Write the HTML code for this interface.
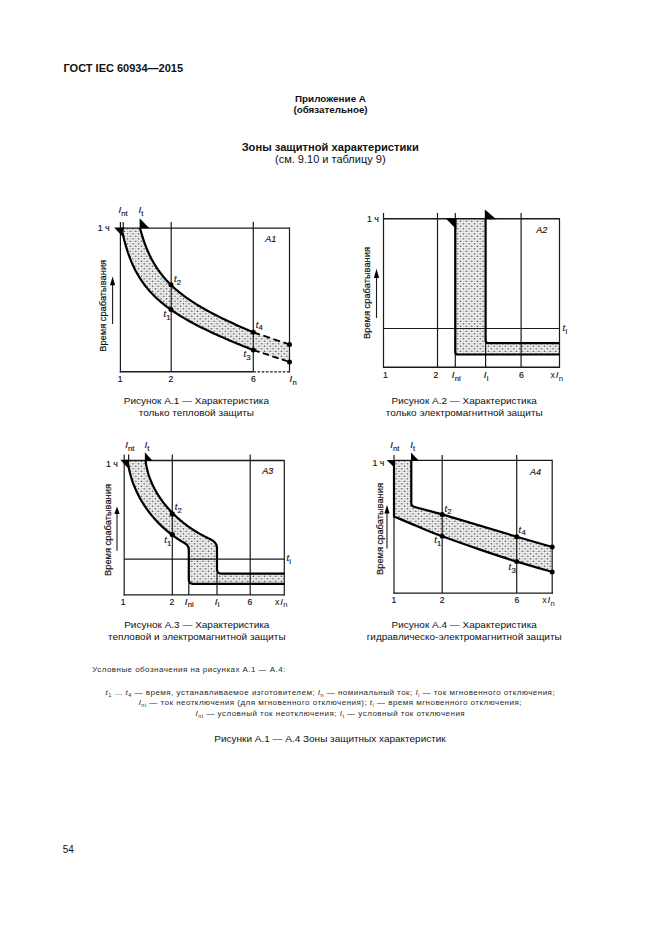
<!DOCTYPE html>
<html><head><meta charset="utf-8"><style>
html,body{margin:0;padding:0;background:#fff;width:661px;height:936px;overflow:hidden}
svg{position:absolute;left:0;top:0;display:block}
text{font-family:"Liberation Sans",sans-serif;fill:#111}
</style></head><body>
<svg width="661" height="936" viewBox="0 0 661 936">
<defs>
<pattern id="dots" width="5.6" height="5" patternUnits="userSpaceOnUse">
<rect width="5.6" height="5" fill="#f0f0f0"/>
<circle cx="1.4" cy="1.25" r="0.85" fill="#5a5a5a"/>
<circle cx="4.2" cy="3.75" r="0.85" fill="#5a5a5a"/>
<circle cx="4.2" cy="1.25" r="0.6" fill="#a8a8a8"/>
<circle cx="1.4" cy="3.75" r="0.6" fill="#a8a8a8"/>
</pattern>
</defs>
<path d="M140.00,228.19 L140.16,228.80 L140.49,230.02 L140.94,231.63 L141.49,233.54 L142.13,235.66 L142.85,237.95 L143.64,240.35 L144.51,242.83 L145.44,245.35 L146.44,247.90 L147.51,250.45 L148.63,252.99 L149.81,255.50 L151.04,257.97 L152.33,260.40 L153.67,262.78 L155.06,265.11 L156.51,267.38 L158.00,269.60 L159.54,271.76 L161.12,273.87 L162.75,275.93 L164.43,277.93 L166.15,279.89 L167.92,281.79 L169.73,283.65 L171.58,285.46 L173.47,287.23 L175.40,288.97 L177.38,290.66 L179.39,292.32 L181.44,293.95 L183.53,295.54 L185.66,297.11 L187.83,298.65 L190.03,300.16 L192.28,301.65 L194.56,303.12 L196.87,304.56 L199.22,305.99 L201.61,307.40 L204.03,308.79 L206.49,310.17 L208.98,311.53 L211.50,312.89 L214.06,314.22 L216.66,315.55 L219.28,316.87 L221.94,318.18 L224.63,319.48 L227.36,320.78 L230.11,322.07 L232.90,323.35 L235.72,324.63 L238.58,325.90 L241.46,327.17 L244.37,328.43 L247.32,329.69 L250.29,330.95 L253.30,332.21 L289.5,344.50 L289.5,362.00 L253.30,350.08 L249.80,348.70 L246.34,347.32 L242.92,345.94 L239.53,344.56 L236.17,343.18 L232.85,341.79 L229.57,340.40 L226.33,339.01 L223.12,337.61 L219.95,336.21 L216.82,334.80 L213.73,333.39 L210.67,331.97 L207.66,330.54 L204.68,329.10 L201.74,327.65 L198.84,326.18 L195.99,324.71 L193.17,323.22 L190.39,321.71 L187.66,320.18 L184.96,318.64 L182.31,317.07 L179.70,315.48 L177.14,313.86 L174.62,312.22 L172.14,310.54 L169.71,308.83 L167.32,307.08 L164.98,305.30 L162.68,303.47 L160.43,301.59 L158.23,299.67 L156.08,297.69 L153.98,295.66 L151.92,293.56 L149.92,291.39 L147.97,289.16 L146.07,286.85 L144.23,284.46 L142.44,281.98 L140.70,279.42 L139.02,276.77 L137.40,274.02 L135.84,271.17 L134.34,268.23 L132.91,265.20 L131.54,262.07 L130.23,258.86 L129.00,255.59 L127.83,252.26 L126.75,248.90 L125.74,245.54 L124.81,242.24 L123.97,239.04 L123.23,236.03 L122.59,233.28 L122.07,230.92 L121.69,229.12 L121.50,228.21 Z" fill="url(#dots)" stroke="none"/>
<line x1="120.4" y1="222.0" x2="120.4" y2="372.4" stroke="#1a1a1a" stroke-width="1.20"/>
<line x1="123.2" y1="222.0" x2="123.2" y2="229.0" stroke="#1a1a1a" stroke-width="1.20"/>
<line x1="120.4" y1="228.1" x2="289.5" y2="228.1" stroke="#1a1a1a" stroke-width="1.40"/>
<line x1="171.2" y1="222.0" x2="171.2" y2="371.8" stroke="#1a1a1a" stroke-width="1.20"/>
<line x1="253.3" y1="221.8" x2="253.3" y2="371.8" stroke="#1a1a1a" stroke-width="1.20"/>
<line x1="289.5" y1="227.5" x2="289.5" y2="372.4" stroke="#1a1a1a" stroke-width="1.20"/>
<line x1="119.8" y1="371.8" x2="253.3" y2="371.8" stroke="#1a1a1a" stroke-width="1.40"/>
<line x1="253.3" y1="371.8" x2="289.5" y2="371.8" stroke="#1a1a1a" stroke-width="1.20" stroke-dasharray="2.6,1.6"/>
<path d="M121.50,228.21 L121.69,229.12 L122.07,230.92 L122.59,233.28 L123.23,236.03 L123.97,239.04 L124.81,242.24 L125.74,245.54 L126.75,248.90 L127.83,252.26 L129.00,255.59 L130.23,258.86 L131.54,262.07 L132.91,265.20 L134.34,268.23 L135.84,271.17 L137.40,274.02 L139.02,276.77 L140.70,279.42 L142.44,281.98 L144.23,284.46 L146.07,286.85 L147.97,289.16 L149.92,291.39 L151.92,293.56 L153.98,295.66 L156.08,297.69 L158.23,299.67 L160.43,301.59 L162.68,303.47 L164.98,305.30 L167.32,307.08 L169.71,308.83 L172.14,310.54 L174.62,312.22 L177.14,313.86 L179.70,315.48 L182.31,317.07 L184.96,318.64 L187.66,320.18 L190.39,321.71 L193.17,323.22 L195.99,324.71 L198.84,326.18 L201.74,327.65 L204.68,329.10 L207.66,330.54 L210.67,331.97 L213.73,333.39 L216.82,334.80 L219.95,336.21 L223.12,337.61 L226.33,339.01 L229.57,340.40 L232.85,341.79 L236.17,343.18 L239.53,344.56 L242.92,345.94 L246.34,347.32 L249.80,348.70 L253.30,350.08" fill="none" stroke="#000" stroke-width="2.2" stroke-linejoin="round"/>
<path d="M140.00,228.19 L140.16,228.80 L140.49,230.02 L140.94,231.63 L141.49,233.54 L142.13,235.66 L142.85,237.95 L143.64,240.35 L144.51,242.83 L145.44,245.35 L146.44,247.90 L147.51,250.45 L148.63,252.99 L149.81,255.50 L151.04,257.97 L152.33,260.40 L153.67,262.78 L155.06,265.11 L156.51,267.38 L158.00,269.60 L159.54,271.76 L161.12,273.87 L162.75,275.93 L164.43,277.93 L166.15,279.89 L167.92,281.79 L169.73,283.65 L171.58,285.46 L173.47,287.23 L175.40,288.97 L177.38,290.66 L179.39,292.32 L181.44,293.95 L183.53,295.54 L185.66,297.11 L187.83,298.65 L190.03,300.16 L192.28,301.65 L194.56,303.12 L196.87,304.56 L199.22,305.99 L201.61,307.40 L204.03,308.79 L206.49,310.17 L208.98,311.53 L211.50,312.89 L214.06,314.22 L216.66,315.55 L219.28,316.87 L221.94,318.18 L224.63,319.48 L227.36,320.78 L230.11,322.07 L232.90,323.35 L235.72,324.63 L238.58,325.90 L241.46,327.17 L244.37,328.43 L247.32,329.69 L250.29,330.95 L253.30,332.21" fill="none" stroke="#000" stroke-width="2.2" stroke-linejoin="round"/>
<line x1="253.3" y1="350.0" x2="289.5" y2="362.0" stroke="#000" stroke-width="1.80" stroke-dasharray="6.5,3.5"/>
<line x1="253.3" y1="332.3" x2="289.5" y2="344.5" stroke="#000" stroke-width="1.80" stroke-dasharray="7,3.6"/>
<circle cx="171.0" cy="309.6" r="2.5" fill="#000"/>
<circle cx="171.0" cy="284.7" r="2.5" fill="#000"/>
<circle cx="253.3" cy="350.0" r="2.5" fill="#000"/>
<circle cx="253.3" cy="332.3" r="2.5" fill="#000"/>
<circle cx="289.5" cy="344.5" r="2.5" fill="#000"/>
<circle cx="289.5" cy="362.0" r="2.5" fill="#000"/>
<polygon points="114.2,227.4 124.4,227.4 122.2,236.2" fill="#000"/>
<polygon points="139.6,218.2 149.4,228.3 139.6,228.3" fill="#000"/>
<text x="118.4" y="213.2" font-size="9.60" text-anchor="start" stroke="#111" stroke-width="0.15"><tspan font-style="italic">I</tspan><tspan font-size="7.60" dy="3.0" dx="0.2">nt</tspan></text>
<text x="138.4" y="213.2" font-size="9.60" text-anchor="start" stroke="#111" stroke-width="0.15"><tspan font-style="italic">I</tspan><tspan font-size="7.60" dy="3.0" dx="0.2">t</tspan></text>
<text x="109.6" y="231.3" font-size="8.80" text-anchor="end" font-weight="normal" stroke="#111" stroke-width="0.15">1 ч</text>
<text x="265.2" y="241.8" font-size="9.00" text-anchor="start" font-weight="normal" font-style="italic" stroke="#111" stroke-width="0.15">A1</text>
<text transform="translate(106.4,305.8) rotate(-90)" x="0" y="0" font-size="9.30" text-anchor="middle" stroke="#111" stroke-width="0.18">Время срабатывания</text>
<line x1="112.6" y1="284.3" x2="112.6" y2="324.0" stroke="#1a1a1a" stroke-width="1.10"/>
<polygon points="112.6,276.4 110.0,285.3 115.2,285.3" fill="#000"/>
<text x="120.2" y="382.0" font-size="8.60" text-anchor="middle" font-weight="normal" stroke="#111" stroke-width="0.15">1</text>
<text x="170.8" y="382.0" font-size="8.60" text-anchor="middle" font-weight="normal" stroke="#111" stroke-width="0.15">2</text>
<text x="253.5" y="382.0" font-size="8.60" text-anchor="middle" font-weight="normal" stroke="#111" stroke-width="0.15">6</text>
<text x="289.6" y="381.8" font-size="9.60" text-anchor="start" stroke="#111" stroke-width="0.15"><tspan font-style="italic">I</tspan><tspan font-size="7.60" dy="3.0" dx="0.2">n</tspan></text>
<text x="174.0" y="282.2" font-size="9.40" text-anchor="start" stroke="#111" stroke-width="0.15"><tspan font-style="italic">t</tspan><tspan font-size="7.80" dy="2.6" dx="0.2">2</tspan></text>
<text x="163.4" y="317.2" font-size="9.40" text-anchor="start" stroke="#111" stroke-width="0.15"><tspan font-style="italic">t</tspan><tspan font-size="7.80" dy="2.6" dx="0.2">1</tspan></text>
<text x="255.8" y="327.5" font-size="9.40" text-anchor="start" stroke="#111" stroke-width="0.15"><tspan font-style="italic">t</tspan><tspan font-size="7.80" dy="2.6" dx="0.2">4</tspan></text>
<text x="243.5" y="357.0" font-size="9.40" text-anchor="start" stroke="#111" stroke-width="0.15"><tspan font-style="italic">t</tspan><tspan font-size="7.80" dy="2.6" dx="0.2">3</tspan></text>
<path d="M455.3,218.8 H485.6 V343.2 H559.5 V354.5 H455.3 Z" fill="url(#dots)"/>
<line x1="383.5" y1="213.0" x2="383.5" y2="367.9" stroke="#1a1a1a" stroke-width="1.20"/>
<line x1="383.5" y1="218.8" x2="559.5" y2="218.8" stroke="#1a1a1a" stroke-width="1.40"/>
<line x1="437.5" y1="213.0" x2="437.5" y2="367.3" stroke="#1a1a1a" stroke-width="1.20"/>
<line x1="455.3" y1="213.0" x2="455.3" y2="367.3" stroke="#1a1a1a" stroke-width="1.20"/>
<line x1="521.1" y1="213.0" x2="521.1" y2="367.3" stroke="#1a1a1a" stroke-width="1.20"/>
<line x1="485.6" y1="343.0" x2="485.6" y2="367.3" stroke="#1a1a1a" stroke-width="1.20"/>
<line x1="559.5" y1="218.2" x2="559.5" y2="367.9" stroke="#1a1a1a" stroke-width="1.20"/>
<line x1="383.5" y1="328.5" x2="559.5" y2="328.5" stroke="#1a1a1a" stroke-width="1.20"/>
<line x1="382.9" y1="367.3" x2="560.1" y2="367.3" stroke="#1a1a1a" stroke-width="1.40"/>
<path d="M485.6,218.8 V340.6 Q485.6,343.2 488.2,343.2 H559.5" fill="none" stroke="#000" stroke-width="2.2"/>
<path d="M455.3,218.8 V351.9 Q455.3,354.5 457.9,354.5 H559.5" fill="none" stroke="#000" stroke-width="2.2"/>
<polygon points="445.6,218.2 456.3,218.2 456.3,229.2" fill="#000"/>
<polygon points="484.8,209.5 496.3,219.3 484.8,219.3" fill="#000"/>
<text x="378.8" y="222.2" font-size="8.80" text-anchor="end" font-weight="normal" stroke="#111" stroke-width="0.15">1 ч</text>
<text x="536.2" y="233.4" font-size="9.00" text-anchor="start" font-weight="normal" font-style="italic" stroke="#111" stroke-width="0.15">A2</text>
<text x="562.6" y="331.0" font-size="9.40" text-anchor="start" stroke="#111" stroke-width="0.15"><tspan font-style="italic">t</tspan><tspan font-size="7.60" dy="2.6" dx="0.2">i</tspan></text>
<text transform="translate(370.2,293.0) rotate(-90)" x="0" y="0" font-size="9.30" text-anchor="middle" stroke="#111" stroke-width="0.18">Время срабатывания</text>
<line x1="376.5" y1="277.0" x2="376.5" y2="318.0" stroke="#1a1a1a" stroke-width="1.10"/>
<polygon points="376.5,268.8 373.9,278.0 379.1,278.0" fill="#000"/>
<text x="385.5" y="378.0" font-size="8.60" text-anchor="middle" font-weight="normal" stroke="#111" stroke-width="0.15">1</text>
<text x="435.8" y="378.0" font-size="8.60" text-anchor="middle" font-weight="normal" stroke="#111" stroke-width="0.15">2</text>
<text x="451.8" y="377.8" font-size="9.60" text-anchor="start" stroke="#111" stroke-width="0.15"><tspan font-style="italic">I</tspan><tspan font-size="7.60" dy="2.7" dx="0.2">ni</tspan></text>
<text x="483.8" y="377.8" font-size="9.60" text-anchor="start" stroke="#111" stroke-width="0.15"><tspan font-style="italic">I</tspan><tspan font-size="7.60" dy="2.7" dx="0.2">i</tspan></text>
<text x="521.3" y="378.0" font-size="8.60" text-anchor="middle" font-weight="normal" stroke="#111" stroke-width="0.15">6</text>
<text x="550.4" y="377.8" font-size="9">x<tspan font-style="italic" font-size="9.6" dx="0.8">I</tspan><tspan font-size="7.6" dy="2.7" dx="0.3">n</tspan></text>
<path d="M145.56,460.54 L145.74,461.89 L145.94,463.23 L146.16,464.57 L146.40,465.90 L146.67,467.22 L146.96,468.54 L147.27,469.84 L147.61,471.14 L147.96,472.44 L148.34,473.72 L148.73,475.00 L149.15,476.27 L149.59,477.53 L150.05,478.78 L150.52,480.03 L151.02,481.27 L151.54,482.50 L152.07,483.72 L152.62,484.93 L153.20,486.14 L153.79,487.33 L154.39,488.52 L155.02,489.70 L155.66,490.87 L156.32,492.03 L157.00,493.18 L157.69,494.32 L158.40,495.45 L159.13,496.58 L159.87,497.69 L160.63,498.80 L161.40,499.89 L162.18,500.98 L162.99,502.06 L163.80,503.12 L164.63,504.18 L165.48,505.22 L166.33,506.26 L167.21,507.29 L168.09,508.30 L168.99,509.31 L169.90,510.31 L170.82,511.29 L171.75,512.26 L172.70,513.23 L173.65,514.18 L174.62,515.12 L175.60,516.05 L176.59,516.97 L177.59,517.88 L178.60,518.78 L179.62,519.67 L180.65,520.54 L181.69,521.40 L182.74,522.26 L183.80,523.10 L184.87,523.92 L185.94,524.74 L187.02,525.55 L188.11,526.34 L189.21,527.12 L190.32,527.89 L191.43,528.64 L192.55,529.39 L193.67,530.12 L194.80,530.84 L195.94,531.54 L197.08,532.23 L198.23,532.91 L199.38,533.58 L200.54,534.24 L201.70,534.88 L202.87,535.51 L204.04,536.12 L205.22,536.72 L206.40,537.31 L207.58,537.89 L208.76,538.45 L209.95,538.99 Q217.0,542.24 217.0,547.74 L217.0,573.6 L284.3,573.6 L284.3,583.8 L188.8,583.8 L188.8,549.99 Q188.8,545.49 184.82,543.21 L184.82,543.21 L183.67,542.56 L182.52,541.89 L181.39,541.20 L180.26,540.51 L179.14,539.80 L178.03,539.08 L176.92,538.35 L175.83,537.60 L174.74,536.84 L173.67,536.08 L172.60,535.29 L171.54,534.50 L170.49,533.70 L169.45,532.88 L168.42,532.05 L167.40,531.22 L166.38,530.37 L165.38,529.51 L164.39,528.63 L163.40,527.75 L162.43,526.86 L161.47,525.95 L160.52,525.04 L159.58,524.11 L158.65,523.18 L157.73,522.23 L156.82,521.28 L155.92,520.31 L155.03,519.33 L154.16,518.35 L153.29,517.35 L152.44,516.35 L151.60,515.33 L150.77,514.31 L149.95,513.28 L149.14,512.24 L148.35,511.18 L147.57,510.12 L146.80,509.06 L146.04,507.98 L145.30,506.89 L144.57,505.80 L143.85,504.70 L143.14,503.59 L142.45,502.47 L141.77,501.34 L141.11,500.21 L140.45,499.06 L139.82,497.91 L139.19,496.75 L138.58,495.59 L137.98,494.42 L137.40,493.24 L136.83,492.05 L136.28,490.86 L135.74,489.66 L135.21,488.45 L134.70,487.23 L134.21,486.01 L133.72,484.79 L133.26,483.55 L132.81,482.31 L132.37,481.07 L131.95,479.81 L131.55,478.56 L131.16,477.29 L130.79,476.02 L130.43,474.75 L130.09,473.47 L129.77,472.18 L129.46,470.89 L129.17,469.60 L128.89,468.30 L128.64,466.99 L128.40,465.68 L128.17,464.36 L127.96,463.04 L127.77,461.72 L127.60,460.39 Z" fill="url(#dots)"/>
<line x1="124.2" y1="454.5" x2="124.2" y2="595.5" stroke="#1a1a1a" stroke-width="1.20"/>
<line x1="128.6" y1="454.5" x2="128.6" y2="461.0" stroke="#1a1a1a" stroke-width="1.20"/>
<line x1="124.2" y1="460.5" x2="284.3" y2="460.5" stroke="#1a1a1a" stroke-width="1.40"/>
<line x1="172.3" y1="454.4" x2="172.3" y2="594.9" stroke="#1a1a1a" stroke-width="1.20"/>
<line x1="250.2" y1="454.4" x2="250.2" y2="594.9" stroke="#1a1a1a" stroke-width="1.20"/>
<line x1="188.8" y1="583.0" x2="188.8" y2="594.9" stroke="#1a1a1a" stroke-width="1.20"/>
<line x1="217.0" y1="573.0" x2="217.0" y2="594.9" stroke="#1a1a1a" stroke-width="1.20"/>
<line x1="284.3" y1="459.9" x2="284.3" y2="595.5" stroke="#1a1a1a" stroke-width="1.20"/>
<line x1="124.2" y1="559.1" x2="284.3" y2="559.1" stroke="#1a1a1a" stroke-width="1.20"/>
<line x1="123.6" y1="594.9" x2="284.9" y2="594.9" stroke="#1a1a1a" stroke-width="1.40"/>
<path d="M145.56,460.54 L145.74,461.89 L145.94,463.23 L146.16,464.57 L146.40,465.90 L146.67,467.22 L146.96,468.54 L147.27,469.84 L147.61,471.14 L147.96,472.44 L148.34,473.72 L148.73,475.00 L149.15,476.27 L149.59,477.53 L150.05,478.78 L150.52,480.03 L151.02,481.27 L151.54,482.50 L152.07,483.72 L152.62,484.93 L153.20,486.14 L153.79,487.33 L154.39,488.52 L155.02,489.70 L155.66,490.87 L156.32,492.03 L157.00,493.18 L157.69,494.32 L158.40,495.45 L159.13,496.58 L159.87,497.69 L160.63,498.80 L161.40,499.89 L162.18,500.98 L162.99,502.06 L163.80,503.12 L164.63,504.18 L165.48,505.22 L166.33,506.26 L167.21,507.29 L168.09,508.30 L168.99,509.31 L169.90,510.31 L170.82,511.29 L171.75,512.26 L172.70,513.23 L173.65,514.18 L174.62,515.12 L175.60,516.05 L176.59,516.97 L177.59,517.88 L178.60,518.78 L179.62,519.67 L180.65,520.54 L181.69,521.40 L182.74,522.26 L183.80,523.10 L184.87,523.92 L185.94,524.74 L187.02,525.55 L188.11,526.34 L189.21,527.12 L190.32,527.89 L191.43,528.64 L192.55,529.39 L193.67,530.12 L194.80,530.84 L195.94,531.54 L197.08,532.23 L198.23,532.91 L199.38,533.58 L200.54,534.24 L201.70,534.88 L202.87,535.51 L204.04,536.12 L205.22,536.72 L206.40,537.31 L207.58,537.89 L208.76,538.45 L209.95,538.99 Q217.0,542.24 217.0,547.74 L217.0,569.6 Q217.0,573.6 221.0,573.6 H284.3" fill="none" stroke="#000" stroke-width="2.2" stroke-linejoin="round"/>
<path d="M127.60,460.39 L127.77,461.72 L127.96,463.04 L128.17,464.36 L128.40,465.68 L128.64,466.99 L128.89,468.30 L129.17,469.60 L129.46,470.89 L129.77,472.18 L130.09,473.47 L130.43,474.75 L130.79,476.02 L131.16,477.29 L131.55,478.56 L131.95,479.81 L132.37,481.07 L132.81,482.31 L133.26,483.55 L133.72,484.79 L134.21,486.01 L134.70,487.23 L135.21,488.45 L135.74,489.66 L136.28,490.86 L136.83,492.05 L137.40,493.24 L137.98,494.42 L138.58,495.59 L139.19,496.75 L139.82,497.91 L140.45,499.06 L141.11,500.21 L141.77,501.34 L142.45,502.47 L143.14,503.59 L143.85,504.70 L144.57,505.80 L145.30,506.89 L146.04,507.98 L146.80,509.06 L147.57,510.12 L148.35,511.18 L149.14,512.24 L149.95,513.28 L150.77,514.31 L151.60,515.33 L152.44,516.35 L153.29,517.35 L154.16,518.35 L155.03,519.33 L155.92,520.31 L156.82,521.28 L157.73,522.23 L158.65,523.18 L159.58,524.11 L160.52,525.04 L161.47,525.95 L162.43,526.86 L163.40,527.75 L164.39,528.63 L165.38,529.51 L166.38,530.37 L167.40,531.22 L168.42,532.05 L169.45,532.88 L170.49,533.70 L171.54,534.50 L172.60,535.29 L173.67,536.08 L174.74,536.84 L175.83,537.60 L176.92,538.35 L178.03,539.08 L179.14,539.80 L180.26,540.51 L181.39,541.20 L182.52,541.89 L183.67,542.56 L184.82,543.21 Q188.8,545.49 188.8,549.99 L188.8,579.8 Q188.8,583.8 192.8,583.8 H284.3" fill="none" stroke="#000" stroke-width="2.2" stroke-linejoin="round"/>
<circle cx="172.3" cy="513.9" r="2.6" fill="#000"/>
<circle cx="172.3" cy="534.6" r="2.6" fill="#000"/>
<polygon points="120.3,459.8 129.6,459.8 127.6,467.8" fill="#000"/>
<polygon points="144.9,452.3 152.8,460.9 144.9,460.9" fill="#000"/>
<text x="125.2" y="448.0" font-size="9.60" text-anchor="start" stroke="#111" stroke-width="0.15"><tspan font-style="italic">I</tspan><tspan font-size="7.60" dy="2.8" dx="0.2">nt</tspan></text>
<text x="144.4" y="448.0" font-size="9.60" text-anchor="start" stroke="#111" stroke-width="0.15"><tspan font-style="italic">I</tspan><tspan font-size="7.60" dy="2.8" dx="0.2">t</tspan></text>
<text x="117.8" y="466.6" font-size="8.80" text-anchor="end" font-weight="normal" stroke="#111" stroke-width="0.15">1 ч</text>
<text x="262.2" y="474.4" font-size="9.00" text-anchor="start" font-weight="normal" font-style="italic" stroke="#111" stroke-width="0.15">A3</text>
<text transform="translate(110.8,530.0) rotate(-90)" x="0" y="0" font-size="9.30" text-anchor="middle" stroke="#111" stroke-width="0.18">Время срабатывания</text>
<line x1="117.0" y1="513.0" x2="117.0" y2="550.8" stroke="#1a1a1a" stroke-width="1.10"/>
<polygon points="117.0,506.4 114.4,514.0 119.6,514.0" fill="#000"/>
<text x="123.2" y="604.6" font-size="8.60" text-anchor="middle" font-weight="normal" stroke="#111" stroke-width="0.15">1</text>
<text x="172.0" y="604.6" font-size="8.60" text-anchor="middle" font-weight="normal" stroke="#111" stroke-width="0.15">2</text>
<text x="184.8" y="604.5" font-size="9.60" text-anchor="start" stroke="#111" stroke-width="0.15"><tspan font-style="italic">I</tspan><tspan font-size="7.60" dy="2.7" dx="0.2">ni</tspan></text>
<text x="214.8" y="604.5" font-size="9.60" text-anchor="start" stroke="#111" stroke-width="0.15"><tspan font-style="italic">I</tspan><tspan font-size="7.60" dy="2.7" dx="0.2">i</tspan></text>
<text x="250.0" y="604.6" font-size="8.60" text-anchor="middle" font-weight="normal" stroke="#111" stroke-width="0.15">6</text>
<text x="275.0" y="604.6" font-size="9">x<tspan font-style="italic" font-size="9.6" dx="0.8">I</tspan><tspan font-size="7.6" dy="2.7" dx="0.3">n</tspan></text>
<text x="286.4" y="561.4" font-size="9.40" text-anchor="start" stroke="#111" stroke-width="0.15"><tspan font-style="italic">t</tspan><tspan font-size="7.60" dy="2.6" dx="0.2">i</tspan></text>
<text x="174.8" y="510.3" font-size="9.40" text-anchor="start" stroke="#111" stroke-width="0.15"><tspan font-style="italic">t</tspan><tspan font-size="7.80" dy="2.6" dx="0.2">2</tspan></text>
<text x="164.2" y="543.4" font-size="9.40" text-anchor="start" stroke="#111" stroke-width="0.15"><tspan font-style="italic">t</tspan><tspan font-size="7.80" dy="2.6" dx="0.2">1</tspan></text>
<path d="M394.0,460.4 H411.3 V503.6 Q411.3,506.0 413.8,506.7 L442.2,514.4 L516.7,536.7 L552.2,547.0 L552.2,571.9 C546.3,570.2 528.7,565.3 516.7,561.6 C504.7,557.9 492.4,553.8 480.0,549.6 C467.6,545.4 452.5,540.1 442.2,536.3 C431.9,532.5 426.0,529.9 418.0,526.6 C410.0,523.3 398.0,518.1 394.0,516.4 Z" fill="url(#dots)"/>
<line x1="394.0" y1="455.0" x2="394.0" y2="593.7" stroke="#1a1a1a" stroke-width="1.20"/>
<line x1="394.0" y1="460.4" x2="552.2" y2="460.4" stroke="#1a1a1a" stroke-width="1.40"/>
<line x1="442.2" y1="455.0" x2="442.2" y2="593.1" stroke="#1a1a1a" stroke-width="1.20"/>
<line x1="516.7" y1="455.0" x2="516.7" y2="593.1" stroke="#1a1a1a" stroke-width="1.20"/>
<line x1="552.2" y1="459.8" x2="552.2" y2="593.7" stroke="#1a1a1a" stroke-width="1.20"/>
<line x1="393.4" y1="593.1" x2="552.8" y2="593.1" stroke="#1a1a1a" stroke-width="1.40"/>
<path d="M411.3,460.4 V503.6 Q411.3,506.0 413.8,506.7 L442.2,514.4 L516.7,536.7 L552.2,547.0" fill="none" stroke="#000" stroke-width="2.2"/>
<path d="M394.0,460.4 V516.4 C398.0,518.1 410.0,523.3 418.0,526.6 C426.0,529.9 431.9,532.5 442.2,536.3 C452.5,540.1 467.6,545.4 480.0,549.6 C492.4,553.8 504.7,557.9 516.7,561.6 C528.7,565.3 546.3,570.2 552.2,571.9" fill="none" stroke="#000" stroke-width="2.2"/>
<circle cx="442.2" cy="514.4" r="2.5" fill="#000"/>
<circle cx="516.7" cy="536.7" r="2.5" fill="#000"/>
<circle cx="552.2" cy="547.0" r="2.5" fill="#000"/>
<circle cx="442.2" cy="536.3" r="2.5" fill="#000"/>
<circle cx="516.7" cy="561.6" r="2.5" fill="#000"/>
<circle cx="552.2" cy="571.9" r="2.5" fill="#000"/>
<polygon points="386.6,460.0 395.4,460.0 394.6,467.8" fill="#000"/>
<polygon points="411.0,452.4 419.2,461.1 411.0,461.1" fill="#000"/>
<text x="390.2" y="448.0" font-size="9.60" text-anchor="start" stroke="#111" stroke-width="0.15"><tspan font-style="italic">I</tspan><tspan font-size="7.60" dy="2.8" dx="0.2">nt</tspan></text>
<text x="410.2" y="448.0" font-size="9.60" text-anchor="start" stroke="#111" stroke-width="0.15"><tspan font-style="italic">I</tspan><tspan font-size="7.60" dy="2.8" dx="0.2">t</tspan></text>
<text x="384.4" y="466.4" font-size="8.80" text-anchor="end" font-weight="normal" stroke="#111" stroke-width="0.15">1 ч</text>
<text x="530.0" y="474.8" font-size="9.00" text-anchor="start" font-weight="normal" font-style="italic" stroke="#111" stroke-width="0.15">A4</text>
<text transform="translate(382.5,529.0) rotate(-90)" x="0" y="0" font-size="9.30" text-anchor="middle" stroke="#111" stroke-width="0.18">Время срабатывания</text>
<line x1="387.0" y1="512.4" x2="387.0" y2="548.5" stroke="#1a1a1a" stroke-width="1.10"/>
<polygon points="387.0,505.1 384.4,513.4 389.6,513.4" fill="#000"/>
<text x="393.8" y="603.4" font-size="8.60" text-anchor="middle" font-weight="normal" stroke="#111" stroke-width="0.15">1</text>
<text x="442.2" y="603.4" font-size="8.60" text-anchor="middle" font-weight="normal" stroke="#111" stroke-width="0.15">2</text>
<text x="517.0" y="603.4" font-size="8.60" text-anchor="middle" font-weight="normal" stroke="#111" stroke-width="0.15">6</text>
<text x="542.2" y="603.4" font-size="9">x<tspan font-style="italic" font-size="9.6" dx="0.8">I</tspan><tspan font-size="7.6" dy="2.7" dx="0.3">n</tspan></text>
<text x="444.4" y="511.8" font-size="9.40" text-anchor="start" stroke="#111" stroke-width="0.15"><tspan font-style="italic">t</tspan><tspan font-size="7.80" dy="2.6" dx="0.2">2</tspan></text>
<text x="434.2" y="543.4" font-size="9.40" text-anchor="start" stroke="#111" stroke-width="0.15"><tspan font-style="italic">t</tspan><tspan font-size="7.80" dy="2.6" dx="0.2">1</tspan></text>
<text x="518.6" y="532.5" font-size="9.40" text-anchor="start" stroke="#111" stroke-width="0.15"><tspan font-style="italic">t</tspan><tspan font-size="7.80" dy="2.6" dx="0.2">4</tspan></text>
<text x="508.6" y="570.1" font-size="9.40" text-anchor="start" stroke="#111" stroke-width="0.15"><tspan font-style="italic">t</tspan><tspan font-size="7.80" dy="2.6" dx="0.2">3</tspan></text>
<text x="63.5" y="71.8" font-size="11.00" text-anchor="start" font-weight="bold">ГОСТ IEC 60934—2015</text>
<text x="330.5" y="101.5" font-size="9.90" text-anchor="middle" font-weight="bold">Приложение А</text>
<text x="330.5" y="113.0" font-size="9.80" text-anchor="middle" font-weight="bold">(обязательное)</text>
<text x="330.2" y="150.9" font-size="11.15" text-anchor="middle" font-weight="bold">Зоны защитной характеристики</text>
<text x="330.3" y="163.4" font-size="11.00" text-anchor="middle" font-weight="normal">(см. 9.10 и таблицу 9)</text>
<text transform="translate(196.40,403.60) scale(1,0.860)" x="0" y="0" font-size="10.00" text-anchor="middle">Рисунок А.1 — Характеристика</text>
<text transform="translate(196.40,415.60) scale(1,0.860)" x="0" y="0" font-size="10.00" text-anchor="middle">только тепловой защиты</text>
<text transform="translate(464.20,403.60) scale(1,0.860)" x="0" y="0" font-size="10.00" text-anchor="middle">Рисунок А.2 — Характеристика</text>
<text transform="translate(464.20,415.60) scale(1,0.860)" x="0" y="0" font-size="10.00" text-anchor="middle">только электромагнитной защиты</text>
<text transform="translate(196.80,627.70) scale(1,0.860)" x="0" y="0" font-size="10.00" text-anchor="middle">Рисунок А.3 — Характеристика</text>
<text transform="translate(196.80,639.70) scale(1,0.860)" x="0" y="0" font-size="10.00" text-anchor="middle">тепловой и электромагнитной защиты</text>
<text transform="translate(464.20,627.90) scale(1,0.860)" x="0" y="0" font-size="10.00" text-anchor="middle">Рисунок А.4 — Характеристика</text>
<text transform="translate(464.20,639.90) scale(1,0.860)" x="0" y="0" font-size="10.00" text-anchor="middle">гидравлическо-электромагнитной защиты</text>
<text x="92.3" y="672.2" font-size="8.00" text-anchor="start" font-weight="normal" letter-spacing="0.45" style="fill:#2a2a2a">Условные обозначения на рисунках А.1 — А.4:</text>
<text x="330.3" y="695.1" font-size="8" text-anchor="middle" fill="#2a2a2a" style="fill:#2a2a2a" letter-spacing="0.48"><tspan font-style="italic">t</tspan><tspan font-size="5.5" dy="1.6">1</tspan><tspan dy="-1.6"> </tspan>… <tspan font-style="italic">t</tspan><tspan font-size="5.5" dy="1.6">4</tspan><tspan dy="-1.6"> </tspan>— время, устанавливаемое изготовителем; <tspan font-style="italic">I</tspan><tspan font-size="5.5" dy="1.6">n</tspan><tspan dy="-1.6"> </tspan>— номинальный ток; <tspan font-style="italic">I</tspan><tspan font-size="5.5" dy="1.6">i</tspan><tspan dy="-1.6"> </tspan>— ток мгновенного отключения;</text>
<text x="330.3" y="705.3" font-size="8" text-anchor="middle" fill="#2a2a2a" style="fill:#2a2a2a" letter-spacing="0.48"><tspan font-style="italic">I</tspan><tspan font-size="5.5" dy="1.6">ni</tspan><tspan dy="-1.6"> </tspan>— ток неотключения (для мгновенного отключения); <tspan font-style="italic">t</tspan><tspan font-size="5.5" dy="1.6">i</tspan><tspan dy="-1.6"> </tspan>— время мгновенного отключения;</text>
<text x="330.3" y="716.0" font-size="8" text-anchor="middle" fill="#2a2a2a" style="fill:#2a2a2a" letter-spacing="0.48"><tspan font-style="italic">I</tspan><tspan font-size="5.5" dy="1.6">nt</tspan><tspan dy="-1.6"> </tspan>— условный ток неотключения; <tspan font-style="italic">I</tspan><tspan font-size="5.5" dy="1.6">t</tspan><tspan dy="-1.6"> </tspan>— условный ток отключения</text>
<text transform="translate(330.00,741.90) scale(1,0.890)" x="0" y="0" font-size="10.00" text-anchor="middle">Рисунки А.1 — А.4 Зоны защитных характеристик</text>
<text x="62.8" y="852.7" font-size="10.00" text-anchor="start" font-weight="normal">54</text>
</svg>
</body></html>
